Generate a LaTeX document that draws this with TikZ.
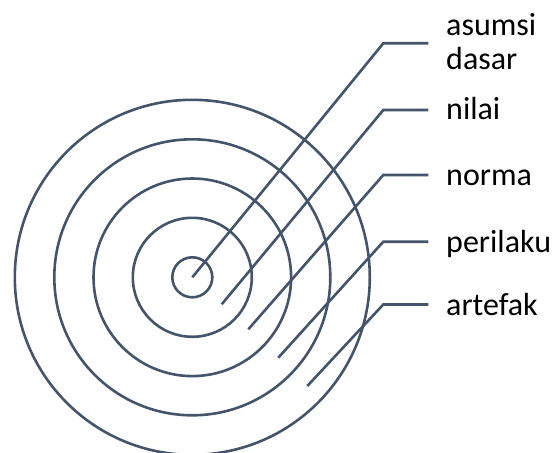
\documentclass[tikz,border=0pt]{standalone}
\usepackage{fontspec}
\setmainfont{Carlito}
\definecolor{slate}{HTML}{44546A}
\tikzset{
  ring/.style={circle, draw=slate, line width=2.6pt, inner sep=0pt},
  leader/.style={draw=slate, line width=2.6pt},
  lbl/.style={anchor=west, inner sep=0pt, text height=21pt, text depth=0pt, font=\fontsize{32}{34}\selectfont},
}
\begin{document}
\begin{tikzpicture}[x=1pt,y=-1pt]
\useasboundingbox (0,0) rectangle (553,452);
\coordinate (ctr) at (192.3,277.3);
\node[ring, minimum size=40pt] (c1) at (ctr) {};
\node[ring, minimum size=119pt] (c2) at (ctr) {};
\node[ring, minimum size=197.6pt] (c3) at (ctr) {};
\node[ring, minimum size=276pt] (c4) at (ctr) {};
\node[ring, minimum size=355pt] (c5) at (ctr) {};
% start points
\coordinate (s1) at (192.3,277.3);
\coordinate (s2) at (221.7,304.3);
\coordinate (s3) at (248.3,329.3);
\coordinate (s4) at (278.3,357.7);
\coordinate (s5) at (307.3,386);
% knees
\coordinate (k1) at (383.3,43.3);
\coordinate (k2) at (383.3,110);
\coordinate (k3) at (383.3,175);
\coordinate (k4) at (383.3,241.7);
\coordinate (k5) at (383.3,304.5);
% ends
\coordinate (e1) at (428.3,43.3);
\coordinate (e2) at (428.3,110);
\coordinate (e3) at (428.3,175);
\coordinate (e4) at (428.3,241.7);
\coordinate (e5) at (428.3,304.5);
% labels
\node[anchor=west, inner sep=0pt, align=left, font=\fontsize{32}{34}\selectfont] (l1) at (446,42) {asumsi\\dasar};
\node[lbl] (l2) at (446,108.5) {nilai};
\node[lbl] (l3) at (446,175) {norma};
\node[lbl] (l4) at (446,241.7) {perilaku};
\node[lbl] (l5) at (446,304.5) {artefak};
\draw[leader] (s1) -- (k1) -- (e1);
\draw[leader] (s2) -- (k2) -- (e2);
\draw[leader] (s3) -- (k3) -- (e3);
\draw[leader] (s4) -- (k4) -- (e4);
\draw[leader] (s5) -- (k5) -- (e5);
\end{tikzpicture}
\end{document}
